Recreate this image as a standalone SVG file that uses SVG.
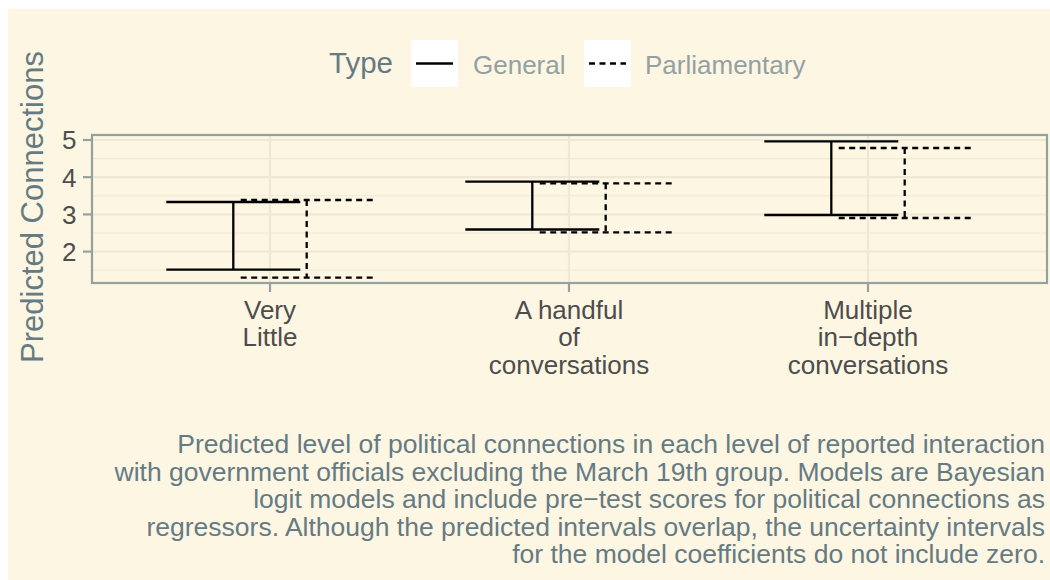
<svg xmlns="http://www.w3.org/2000/svg" width="1050" height="580" viewBox="0 0 1050 580">
  <style>
    text { font-family: "Liberation Sans", Arial, sans-serif; }
    .bg { fill: #fdf6e3; }
    .grid-major { stroke: #eee8d5; stroke-width: 2.2; }
    .grid-minor { stroke: #eee8d5; stroke-width: 1.1; }
    .frame { fill: none; stroke: #93a1a1; stroke-width: 2.2; }
    .tick { stroke: #93a1a1; stroke-width: 2.2; }
    .axis-text { fill: #4d4d4d; font-size: 26px; }
    .axis-title { fill: #657b83; font-size: 31px; }
    .legend-title { fill: #657b83; font-size: 29.5px; }
    .legend-text { fill: #93a1a1; font-size: 26px; }
    .caption { fill: #657b83; font-size: 26.5px; }
    .general line { stroke: #000; stroke-width: 2.3; }
    .parl line { stroke: #000; stroke-width: 2.3; stroke-dasharray: 6 4.5; }
    .key { fill: #ffffff; }
  </style>

  <!-- plot background -->
  <rect x="0" y="0" width="1050" height="580" fill="#ffffff"/>
  <rect class="bg" x="8" y="9" width="1042" height="571"/>

  <!-- panel grid -->
  <g id="grid">
    <line class="grid-minor" x1="92" y1="158.6" x2="1047" y2="158.6"/>
    <line class="grid-minor" x1="92" y1="195.8" x2="1047" y2="195.8"/>
    <line class="grid-minor" x1="92" y1="233" x2="1047" y2="233"/>
    <line class="grid-minor" x1="92" y1="270.2" x2="1047" y2="270.2"/>
    <line class="grid-major" x1="92" y1="140" x2="1047" y2="140"/>
    <line class="grid-major" x1="92" y1="177.2" x2="1047" y2="177.2"/>
    <line class="grid-major" x1="92" y1="214.4" x2="1047" y2="214.4"/>
    <line class="grid-major" x1="92" y1="251.6" x2="1047" y2="251.6"/>
    <line class="grid-major" x1="270" y1="135" x2="270" y2="283"/>
    <line class="grid-major" x1="569" y1="135" x2="569" y2="283"/>
    <line class="grid-major" x1="868" y1="135" x2="868" y2="283"/>
  </g>

  <!-- error bars: General (solid) -->
  <g id="general" class="general">
    <g id="general-very-little">
      <line x1="166.3" y1="202" x2="300.3" y2="202"/>
      <line x1="166.3" y1="269.7" x2="300.3" y2="269.7"/>
      <line x1="233.3" y1="202" x2="233.3" y2="269.7"/>
    </g>
    <g id="general-handful">
      <line x1="465.3" y1="181.7" x2="599.3" y2="181.7"/>
      <line x1="465.3" y1="229.5" x2="599.3" y2="229.5"/>
      <line x1="532.3" y1="181.7" x2="532.3" y2="229.5"/>
    </g>
    <g id="general-multiple">
      <line x1="764.3" y1="141.3" x2="898.3" y2="141.3"/>
      <line x1="764.3" y1="215" x2="898.3" y2="215"/>
      <line x1="831.3" y1="141.3" x2="831.3" y2="215"/>
    </g>
  </g>

  <!-- error bars: Parliamentary (dashed) -->
  <g id="parliamentary" class="parl">
    <g id="parl-very-little">
      <line x1="240.7" y1="200" x2="372.7" y2="200"/>
      <line x1="240.7" y1="277.7" x2="372.7" y2="277.7"/>
      <line x1="306.7" y1="200" x2="306.7" y2="277.7"/>
    </g>
    <g id="parl-handful">
      <line x1="539.7" y1="183.3" x2="671.7" y2="183.3"/>
      <line x1="539.7" y1="232.3" x2="671.7" y2="232.3"/>
      <line x1="605.7" y1="183.3" x2="605.7" y2="232.3"/>
    </g>
    <g id="parl-multiple">
      <line x1="838.7" y1="148" x2="970.7" y2="148"/>
      <line x1="838.7" y1="218" x2="970.7" y2="218"/>
      <line x1="904.7" y1="148" x2="904.7" y2="218"/>
    </g>
  </g>

  <!-- panel border and ticks -->
  <rect class="frame" x="92" y="135" width="955" height="148"/>
  <g id="ticks">
    <line class="tick" x1="83" y1="140" x2="92" y2="140"/>
    <line class="tick" x1="83" y1="177.2" x2="92" y2="177.2"/>
    <line class="tick" x1="83" y1="214.4" x2="92" y2="214.4"/>
    <line class="tick" x1="83" y1="251.6" x2="92" y2="251.6"/>
    <line class="tick" x1="270" y1="283" x2="270" y2="292"/>
    <line class="tick" x1="569" y1="283" x2="569" y2="292"/>
    <line class="tick" x1="868" y1="283" x2="868" y2="292"/>
  </g>

  <!-- y axis labels -->
  <g id="y-axis" class="axis-text" text-anchor="end">
    <text x="76.5" y="149.3">5</text>
    <text x="76.5" y="186.5">4</text>
    <text x="76.5" y="223.7">3</text>
    <text x="76.5" y="260.9">2</text>
  </g>
  <text class="axis-title" x="43" y="207" text-anchor="middle" transform="rotate(-90 43 207)">Predicted Connections</text>

  <!-- x axis labels -->
  <g id="x-axis" class="axis-text" text-anchor="middle">
    <text x="270" y="318.5">Very</text>
    <text x="270" y="346">Little</text>
    <text x="569" y="318.5">A handful</text>
    <text x="569" y="346">of</text>
    <text x="569" y="373.5">conversations</text>
    <text x="868" y="318.5">Multiple</text>
    <text x="868" y="346">in−depth</text>
    <text x="868" y="373.5">conversations</text>
  </g>

  <!-- legend -->
  <g id="legend">
    <text class="legend-title" x="329" y="72.5">Type</text>
    <rect class="key" x="411" y="40" width="47" height="47"/>
    <g class="general"><line x1="416" y1="63.5" x2="453" y2="63.5"/></g>
    <text class="legend-text" x="473" y="74">General</text>
    <rect class="key" x="584" y="40" width="47" height="47"/>
    <g class="parl"><line x1="589" y1="63.5" x2="626" y2="63.5"/></g>
    <text class="legend-text" x="645" y="74">Parliamentary</text>
  </g>

  <!-- caption -->
  <g id="caption" class="caption" text-anchor="end">
    <text x="1045" y="453.3">Predicted level of political connections in each level of reported interaction</text>
    <text x="1045" y="480.7">with government officials excluding the March 19th group. Models are Bayesian</text>
    <text x="1045" y="508.1">logit models and include pre−test scores for political connections as</text>
    <text x="1045" y="535.5">regressors. Although the predicted intervals overlap, the uncertainty intervals</text>
    <text x="1045" y="562.9">for the model coefficients do not include zero.</text>
  </g>
</svg>
